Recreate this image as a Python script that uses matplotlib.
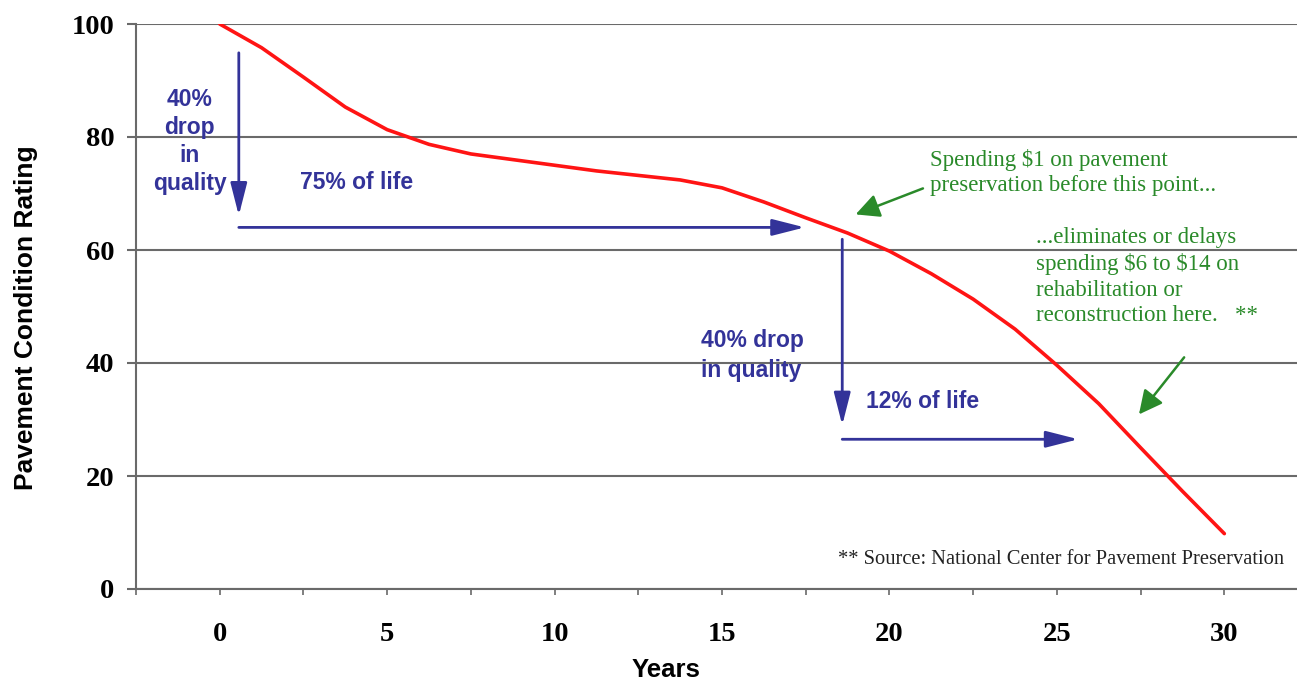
import numpy as np
import matplotlib
matplotlib.use("Agg")
import matplotlib.pyplot as plt
from matplotlib.ticker import MultipleLocator, FuncFormatter

# --- data ---
years = [0, 1.25, 2.5, 3.75, 5, 6.25, 7.5, 8.75, 10, 11.25, 12.5, 13.75, 15,
         16.25, 17.5, 18.75, 20, 21.25, 22.5, 23.75, 25, 26.25, 27.5, 28.75, 30]
rating = [100, 95.8, 90.6, 85.3, 81.3, 78.7, 77.0, 76.0, 75.0, 74.0, 73.2, 72.4, 71.0,
          68.5, 65.7, 63.0, 59.8, 55.8, 51.3, 46.0, 39.6, 32.8, 25.0, 17.3, 9.8]

y_ticks = [0, 20, 40, 60, 80, 100]

# blue arrows: (x_from, y_from, x_to, y_to)
blue_arrows = [(0.57, 94.9, 0.57, 66.1),
               (0.57, 64.0, 17.47, 64.0),
               (18.59, 61.9, 18.59, 29.0),
               (18.59, 26.5, 25.64, 26.5)]
green_arrows = [(21.0, 70.9, 18.99, 66.3),
                (28.8, 41.0, 27.45, 30.9)]

BLUE = "#333399"
GREEN = "#2a8a2a"
RED = "#ff1414"
GRID = "#6a6a6a"

fig = plt.figure(figsize=(12.97, 6.81), dpi=100)
ax = fig.add_axes([136 / 1297, 1 - 589 / 681, 1161 / 1297, 565 / 681])

ax.plot(years, rating, color=RED, lw=2.6, solid_capstyle="round",
        solid_joinstyle="round", zorder=5)

ax.set_xlim(-2.5, 32.17)
ax.set_ylim(0, 100)

# axes styling
for s in ["top", "right"]:
    ax.spines[s].set_visible(False)
for s in ["left", "bottom"]:
    ax.spines[s].set_color(GRID)
    ax.spines[s].set_linewidth(1.5)
ax.set_yticks(y_ticks)
ax.yaxis.grid(True, color=GRID, lw=1.5)
ax.set_axisbelow(True)
ax.xaxis.set_major_locator(MultipleLocator(2.5))
ax.xaxis.set_major_formatter(FuncFormatter(lambda v, p: "%d" % v if abs(v % 5) < 1e-6 and v >= 0 else ""))
ax.tick_params(axis="y", length=6.5, width=1.5, color=GRID, pad=9)
ax.tick_params(axis="x", length=4.5, width=1.2, color=GRID, pad=19)
for lab in ax.get_xticklabels() + ax.get_yticklabels():
    lab.set_fontfamily("Liberation Serif")
    lab.set_fontweight("bold")
    lab.set_fontsize(20.5)

ax.set_ylabel("Pavement Condition Rating", fontfamily="Liberation Sans",
              fontweight="bold", fontsize=19)
ax.yaxis.set_label_coords(-0.084, 0.48)
ax.set_xlabel("Years", fontfamily="Liberation Sans", fontweight="bold", fontsize=18.5)
ax.xaxis.set_label_coords(0.4565, -0.122)

# arrows
for x0, y0, x1, y1 in blue_arrows:
    ax.annotate("", xy=(x1, y1), xytext=(x0, y0),
                arrowprops=dict(arrowstyle="-|>,head_length=1.1,head_width=0.28",
                                mutation_scale=18, color=BLUE, lw=2,
                                shrinkA=0, shrinkB=0), zorder=6)
for x0, y0, x1, y1 in green_arrows:
    ax.annotate("", xy=(x1, y1), xytext=(x0, y0),
                arrowprops=dict(arrowstyle="-|>,head_length=0.9,head_width=0.45",
                                mutation_scale=16, color=GREEN, lw=1.8,
                                shrinkA=0, shrinkB=0), zorder=6)

# blue annotations
bkw = dict(color=BLUE, fontfamily="Liberation Sans", fontweight="bold", fontsize=16.5,
           va="center", linespacing=1.4)
ax.text(-0.9, 79.2, "40%\ndrop\nin\nquality", ha="center", multialignment="center",
        **{**bkw, "linespacing": 1.28})
ax.text(2.39, 71.9, "75% of life", ha="left", **bkw)
ax.text(14.36, 41.3, "40% drop\nin quality", ha="left", **bkw)
ax.text(19.31, 33.2, "12% of life", ha="left", **bkw)

# green annotations
gkw = dict(color=GREEN, fontfamily="Liberation Serif", fontsize=16.5,
           va="center", ha="left", linespacing=1.3)
ax.text(21.2, 73.7, "Spending \\$1 on pavement\npreservation before this point...", **gkw)
ax.text(24.37, 55.3, "...eliminates or delays\nspending \\$6 to \\$14 on\n"
        "rehabilitation or\nreconstruction here.   **", **gkw)

ax.text(18.46, 5.3, "** Source: National Center for Pavement Preservation",
        fontfamily="Liberation Serif", fontsize=14.8, color="#222222", va="center", ha="left")

fig.savefig("out.png", dpi=100)
